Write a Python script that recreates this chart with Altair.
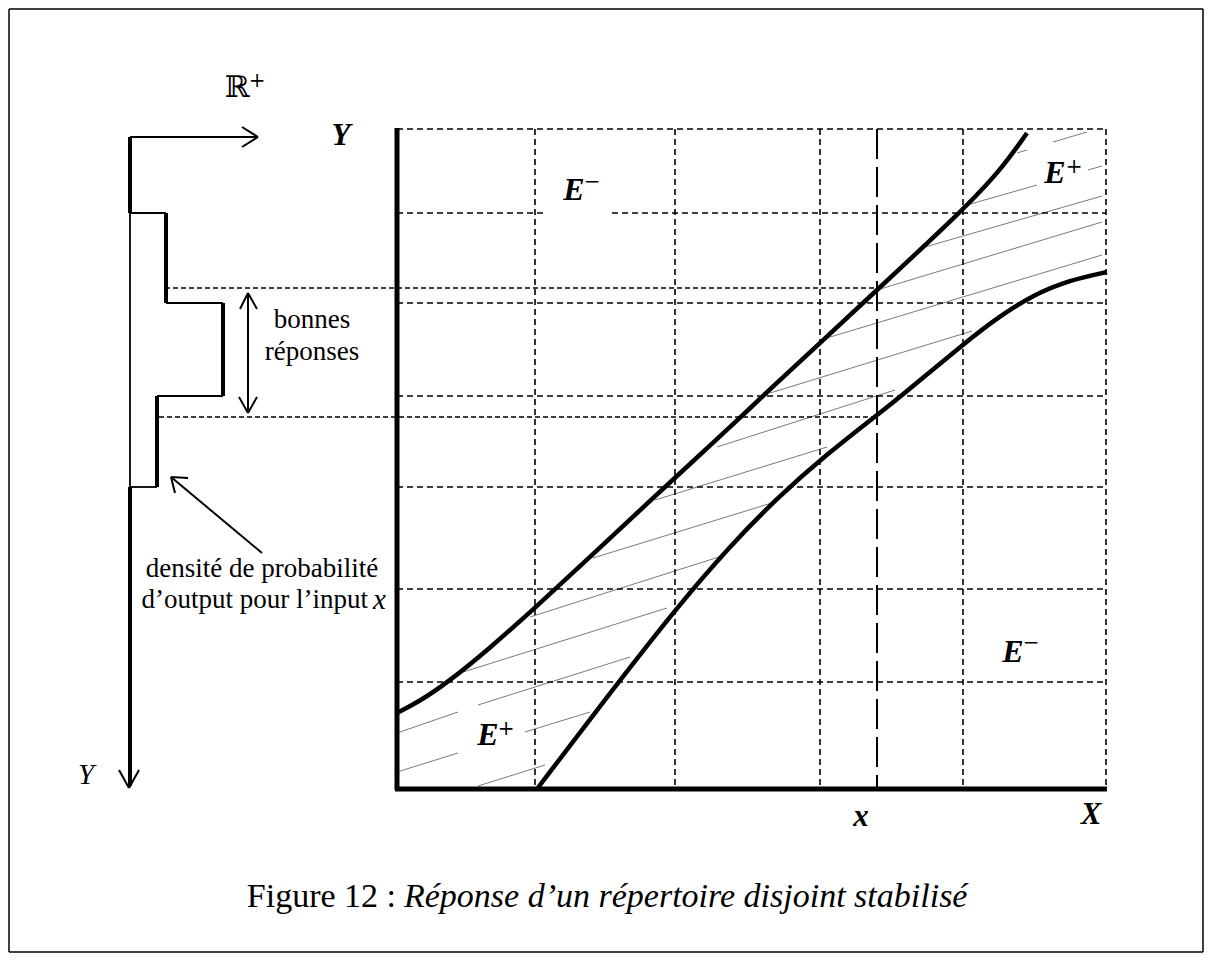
import altair as alt
import pandas as pd

# ---------------- diagram data (reference units, y grows downward) ----------------
# main axes (thick)
axes_x = [397, 395]
axes_y = [128, 789]
axes_x2 = [397, 1107]
axes_y2 = [790, 789]

# grid: short-dashed lines
grid_vx = [535, 675, 820, 963, 1106]
grid_vy0 = [129, 129, 129, 129, 129]
grid_vy1 = [788, 788, 788, 788, 788]
grid_hy = [129, 213, 213, 303, 396, 487, 589, 682]
grid_hx0 = [397, 397, 612, 397, 397, 397, 397, 397]
grid_hx1 = [1106, 545, 1106, 1106, 1106, 1106, 1106, 1106]

# output band limits projected from the density (short-dashed)
band_y = [288, 417]
band_x0 = [165, 159]
band_x1 = [877, 877]

# input x (long-dashed)
input_x = [877]
input_y0 = [129]
input_y1 = [788]

# response curves
upper_x = [397, 397, 420, 447, 490, 535, 590, 653, 690, 743, 767, 820, 877, 963, 1000, 1027, 1027]
upper_y = [713, 713, 701, 683, 648, 608, 557, 498, 464, 415, 392, 343, 290, 210, 171, 133, 133]
lower_x = [537, 537, 600, 677, 730, 777, 827, 877, 900, 967, 1000, 1033, 1070, 1107, 1107]
lower_y = [789, 789, 706, 607, 546, 498, 454, 415, 397, 341, 316, 295, 280, 272, 272]

# hatching of E+ (thin grey segments)
hatch_x0 = [478, 397, 525, 397, 478, 460, 530, 593, 655, 717, 770, 827, 877, 925, 967, 1088, 1017, 1053]
hatch_y0 = [786, 772, 732, 733, 705, 673, 617, 558, 500, 447, 393, 338, 290, 247, 205, 170, 153, 142]
hatch_x1 = [545, 458, 590, 458, 630, 667, 722, 775, 827, 895, 972, 1102, 1102, 1102, 1037, 1102, 1027, 1087]
hatch_y1 = [765, 753, 712, 712, 657, 608, 556, 502, 447, 390, 331, 255, 222, 196, 185, 166, 150, 132]

# density of output (left panel): thick and thin segments
dens_thick_x0 = [130, 166, 223, 157, 130]
dens_thick_y0 = [137, 213, 303, 396, 487]
dens_thick_x1 = [130, 166, 223, 157, 130]
dens_thick_y1 = [213, 303, 396, 487, 786]
dens_thin_x0 = [130, 130, 166, 223, 157, 130]
dens_thin_y0 = [137, 213, 303, 396, 487, 213]
dens_thin_x1 = [258, 166, 223, 157, 130, 130]
dens_thin_y1 = [137, 213, 303, 396, 487, 487]

# arrows (shafts + open heads)
arrow_x0 = [258, 258, 129, 129, 248, 248, 248, 248, 248, 262, 171, 171]
arrow_y0 = [137, 137, 788, 788, 293, 293, 293, 413, 413, 553, 477, 477]
arrow_x1 = [242, 242, 119, 139, 248, 240, 257, 239, 257, 171, 188, 175]
arrow_y1 = [127, 147, 770, 770, 413, 309, 309, 397, 397, 477, 478, 493]

# outer frame
frame_x0 = [9, 9, 1203, 9]
frame_y0 = [9, 9, 9, 952]
frame_x1 = [9, 1203, 1203, 1203]
frame_y1 = [952, 9, 952, 952]

# labels
region_lab = ["E", "E", "E", "E"]
region_x = [574, 1055, 1013, 488]
region_y = [190, 173, 652, 735]
region_sup = ["\u2212", "+", "\u2212", "+"]
region_sx = [592, 1074, 1031, 506]
region_sy = [182, 167, 643, 729]

axis_lab = ["Y", "x", "X"]
axis_lx = [341, 861, 1091]
axis_ly = [136, 817, 815]

serif_txt = ["bonnes", "réponses", "densité de probabilité"]
serif_x = [312, 312, 262]
serif_y = [320, 352, 569]

caption_reg = "Figure 12 :"
caption_ita = "Réponse d’un répertoire disjoint stabilisé"

# ---------------- chart ----------------
XS = alt.Scale(domain=[8, 1204], nice=False, zero=False)
YS = alt.Scale(domain=[8, 953], nice=False, zero=False, reverse=True)


def segs(x0, y0, x1, y1, **mk):
    df = pd.DataFrame({"x": x0, "y": y0, "x2": x1, "y2": y1})
    return alt.Chart(df).mark_rule(**mk).encode(
        x=alt.X("x:Q", scale=XS, axis=None),
        y=alt.Y("y:Q", scale=YS, axis=None),
        x2="x2:Q",
        y2="y2:Q",
    )


def curve(xs, ys, **mk):
    df = pd.DataFrame({"x": xs, "y": ys, "o": list(range(len(xs)))})
    return alt.Chart(df).mark_line(**mk).encode(
        x=alt.X("x:Q", scale=XS, axis=None),
        y=alt.Y("y:Q", scale=YS, axis=None),
        order="o:Q",
    )


def texts(labels, xs, ys, **mk):
    df = pd.DataFrame({"t": labels, "x": xs, "y": ys})
    return alt.Chart(df).mark_text(**mk).encode(
        x=alt.X("x:Q", scale=XS, axis=None),
        y=alt.Y("y:Q", scale=YS, axis=None),
        text="t:N",
    )


SERIF = "Liberation Serif"

layers = [
    segs(frame_x0, frame_y0, frame_x1, frame_y1, color="black", strokeWidth=1.5),
    segs(hatch_x0, hatch_y0, hatch_x1, hatch_y1, color="#7a7a7a", strokeWidth=1),
    segs(grid_vx, grid_vy0, grid_vx, grid_vy1, color="black", strokeWidth=1.6, strokeDash=[6, 4]),
    segs(grid_hx0, grid_hy, grid_hx1, grid_hy, color="black", strokeWidth=1.6, strokeDash=[6, 4]),
    segs(band_x0, band_y, band_x1, band_y, color="black", strokeWidth=1.4, strokeDash=[5, 3]),
    segs(input_x, input_y0, input_x, input_y1, color="black", strokeWidth=2, strokeDash=[30, 8]),
    segs(axes_x, axes_y, axes_x2, axes_y2, color="black", strokeWidth=5),
    curve(upper_x, upper_y, color="black", strokeWidth=4.5, interpolate="basis"),
    curve(lower_x, lower_y, color="black", strokeWidth=4.5, interpolate="basis"),
    segs(dens_thin_x0, dens_thin_y0, dens_thin_x1, dens_thin_y1, color="black", strokeWidth=1.8),
    segs(dens_thick_x0, dens_thick_y0, dens_thick_x1, dens_thick_y1, color="black", strokeWidth=4),
    segs(arrow_x0, arrow_y0, arrow_x1, arrow_y1, color="black", strokeWidth=2),
    texts(region_lab, region_x, region_y, font=SERIF, fontSize=32, fontStyle="italic",
          fontWeight="bold", color="black", baseline="middle", align="center"),
    texts(region_sup, region_sx, region_sy, font="DejaVu Serif", fontSize=20, color="black",
          baseline="middle", align="center"),
    texts(axis_lab, axis_lx, axis_ly, font=SERIF, fontSize=31, fontStyle="italic",
          fontWeight="bold", color="black", baseline="middle", align="center"),
    texts(["Y"], [86], [775], font=SERIF, fontSize=29, fontStyle="italic",
          color="black", baseline="middle", align="center"),
    texts(["ℝ"], [237], [88], font="DejaVu Serif", fontSize=30, color="black",
          baseline="middle", align="center"),
    texts(["+"], [257], [81], font="DejaVu Serif", fontSize=20, color="black",
          baseline="middle", align="center"),
    texts(serif_txt[:2], serif_x[:2], serif_y[:2], font=SERIF, fontSize=27, color="black",
          baseline="middle", align="center"),
    texts(serif_txt[2:], serif_x[2:], serif_y[2:], font=SERIF, fontSize=27, color="black",
          baseline="middle", align="center"),
    texts(["d’output pour l’input"], [368], [600], font=SERIF, fontSize=27, color="black",
          baseline="middle", align="right"),
    texts(["x"], [373], [600], font=SERIF, fontSize=29, fontStyle="italic", color="black",
          baseline="middle", align="left"),
    texts([caption_reg], [396], [897], font=SERIF, fontSize=34, color="black",
          baseline="middle", align="right"),
    texts([caption_ita], [404], [897], font=SERIF, fontSize=34, fontStyle="italic",
          color="black", baseline="middle", align="left"),
]

chart = alt.layer(*layers).properties(
    width=1196, height=945, padding=0, background="white"
).configure_view(stroke=None)

chart.save("out.html", embed_options={"renderer": "svg", "actions": False})
